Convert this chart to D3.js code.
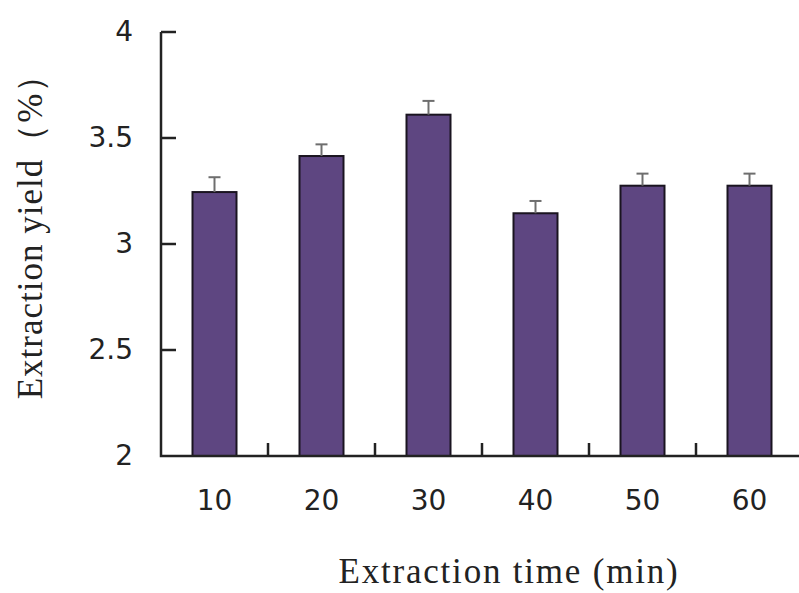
<!DOCTYPE html>
<html>
<head>
<meta charset="utf-8">
<script src="https://cdn.jsdelivr.net/npm/d3@7"></script>
<style>
  body { margin: 0; background: #fff; }
  svg { display: block; }
</style>
</head>
<body>
<div id="container"></div>
<script>
/* DATA */
const times = ["10", "20", "30", "40", "50", "60"]
const yields = [3.245, 3.415, 3.61, 3.145, 3.275, 3.275]
const errors = [0.07, 0.055, 0.065, 0.058, 0.057, 0.057]
const yTicks = [2, 2.5, 3, 3.5, 4]

/* CONSTANTS */
const width = 799
const height = 593
const margin = { top: 32, bottom: 137, left: 161, right: -4 }

const svg = d3.select("#container")
  .append("svg")
  .attr("width", width)
  .attr("height", height)

/* SCALES */
const xScale = d3.scaleBand()
  .domain(times)
  .range([margin.left, width - margin.right])
  .paddingInner(0)

const yScale = d3.scaleLinear()
  .domain([2, 4])
  .range([height - margin.bottom, margin.top])

const barW = 44

// bars
svg.selectAll("rect.bar")
  .data(times)
  .join("rect")
  .attr("class", "bar")
  .attr("x", (d) => xScale(d) + xScale.bandwidth() / 2 - barW / 2)
  .attr("width", barW)
  .attr("y", (d, i) => yScale(yields[i]))
  .attr("height", (d, i) => yScale(2) - yScale(yields[i]))
  .attr("fill", "#5e4681")
  .attr("stroke", "#1a1420")
  .attr("stroke-width", 2)

// error bars (upper only)
const err = svg.append("g")
  .attr("stroke", "#6e6e6e")
  .attr("stroke-width", 2)
times.forEach((d, i) => {
  const cx = xScale(d) + xScale.bandwidth() / 2
  err.append("line")
    .attr("x1", cx).attr("x2", cx)
    .attr("y1", yScale(yields[i])).attr("y2", yScale(yields[i] + errors[i]))
  err.append("line")
    .attr("x1", cx - 6).attr("x2", cx + 6)
    .attr("y1", yScale(yields[i] + errors[i])).attr("y2", yScale(yields[i] + errors[i]))
})

/* AXES */
const yAxis = d3.axisLeft(yScale)
  .tickValues(yTicks)
  .tickFormat(d3.format("~g"))
  .tickSize(0)
  .tickPadding(28)
const yG = svg.append("g")
  .attr("transform", `translate(${margin.left},0)`)
  .call(yAxis)
yG.select(".domain").remove()
yG.selectAll(".tick text")
  .attr("font-family", "DejaVu Sans, sans-serif")
  .attr("font-size", 28)
  .attr("fill", "#222")
// inward ticks
svg.append("g")
  .selectAll("line")
  .data(yTicks.slice(1))
  .join("line")
  .attr("x1", margin.left).attr("x2", margin.left + 15)
  .attr("y1", (d) => yScale(d)).attr("y2", (d) => yScale(d))
  .attr("stroke", "#222")
  .attr("stroke-width", 2.5)

const xAxis = d3.axisBottom(xScale)
  .tickSize(0)
  .tickPadding(34)
const xG = svg.append("g")
  .attr("transform", `translate(0,${yScale(2)})`)
  .call(xAxis)
xG.select(".domain").remove()
xG.selectAll(".tick text")
  .attr("font-family", "DejaVu Sans, sans-serif")
  .attr("font-size", 28)
  .attr("fill", "#222")
// category separator ticks pointing up
svg.append("g")
  .selectAll("line")
  .data(times.slice(1))
  .join("line")
  .attr("x1", (d) => xScale(d)).attr("x2", (d) => xScale(d))
  .attr("y1", yScale(2)).attr("y2", yScale(2) - 13)
  .attr("stroke", "#222")
  .attr("stroke-width", 2.5)

// axis lines
svg.append("path")
  .attr("d", `M${margin.left},${yScale(4)}V${yScale(2)}H${width}`)
  .attr("fill", "none")
  .attr("stroke", "#222")
  .attr("stroke-width", 2.5)

/* TITLES */
svg.append("text")
  .attr("x", 509)
  .attr("y", 583)
  .attr("text-anchor", "middle")
  .attr("font-family", "Liberation Serif, serif")
  .attr("font-size", 35)
  .attr("letter-spacing", 1.8)
  .attr("fill", "#222")
  .text("Extraction time (min)")

svg.append("text")
  .attr("transform", "translate(42,228) rotate(-90)")
  .attr("text-anchor", "middle")
  .attr("font-family", "Liberation Serif, serif")
  .attr("font-size", 35)
  .attr("letter-spacing", 1)
  .attr("fill", "#222")
  .text("Extraction yield（%）")
</script>
</body>
</html>
